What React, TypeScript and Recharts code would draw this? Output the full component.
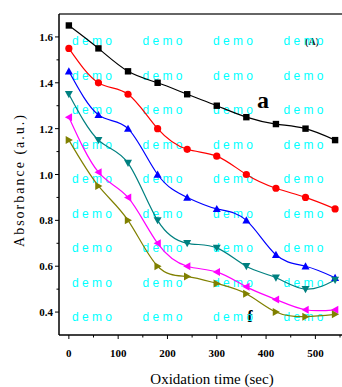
import React from "react";
import { LineChart, Line, XAxis, YAxis, Customized } from "recharts";

const times = [0, 60, 120, 180, 240, 300, 360, 420, 480, 540];
const seriesA = [1.65, 1.55, 1.45, 1.4, 1.35, 1.3, 1.25, 1.22, 1.2, 1.15];
const seriesB = [1.55, 1.4, 1.35, 1.2, 1.11, 1.08, 1.0, 0.94, 0.9, 0.85];
const seriesC = [1.45, 1.26, 1.2, 1.0, 0.9, 0.85, 0.8, 0.65, 0.6, 0.55];
const seriesD = [1.35, 1.15, 1.05, 0.8, 0.7, 0.68, 0.6, 0.55, 0.5, 0.54];
const seriesE = [1.25, 1.01, 0.9, 0.7, 0.6, 0.575, 0.51, 0.455, 0.41, 0.41];
const seriesF = [1.15, 0.95, 0.8, 0.6, 0.555, 0.525, 0.48, 0.4, 0.38, 0.39];

const xTicks = [0, 50, 100, 150, 200, 250, 300, 350, 400, 450, 500, 550];
const yTicks = [0.4, 0.5, 0.6, 0.7, 0.8, 0.9, 1.0, 1.1, 1.2, 1.3, 1.4, 1.5, 1.6];
const xLabels = [0, 100, 200, 300, 400, 500];
const yLabels = [0.4, 0.6, 0.8, 1.0, 1.2, 1.4, 1.6];

const data = times.map((t, i) => ({
  t,
  a: seriesA[i],
  b: seriesB[i],
  c: seriesC[i],
  d: seriesD[i],
  e: seriesE[i],
  f: seriesF[i],
}));

const SERIF = "'Liberation Serif', 'Times New Roman', serif";

type Kind = "square" | "circle" | "up" | "down" | "left" | "right";

const makeDot = (kind: Kind, color: string) => (props: any) => {
  const { cx, cy, index } = props;
  const k = `dot-${kind}-${index}`;
  if (cx == null || cy == null) return <g key={k} />;
  const s = 3.2;
  const t = 4;
  switch (kind) {
    case "square":
      return <rect key={k} x={cx - s} y={cy - s} width={s * 2} height={s * 2} fill={color} />;
    case "circle":
      return <circle key={k} cx={cx} cy={cy} r={3.6} fill={color} />;
    case "up":
      return <polygon key={k} points={`${cx},${cy - t} ${cx - t},${cy + t * 0.8} ${cx + t},${cy + t * 0.8}`} fill={color} />;
    case "down":
      return <polygon key={k} points={`${cx},${cy + t} ${cx - t},${cy - t * 0.8} ${cx + t},${cy - t * 0.8}`} fill={color} />;
    case "left":
      return <polygon key={k} points={`${cx - t},${cy} ${cx + t * 0.8},${cy - t} ${cx + t * 0.8},${cy + t}`} fill={color} />;
    case "right":
    default:
      return <polygon key={k} points={`${cx + t},${cy} ${cx - t * 0.8},${cy - t} ${cx - t * 0.8},${cy + t}`} fill={color} />;
  }
};

const XTick = (props: any) => {
  const { x, y, payload } = props;
  const v = payload.value;
  const major = xLabels.includes(v);
  return (
    <g>
      <line x1={x} x2={x} y1={y} y2={y + (major ? 4 : 2.5)} stroke="#000" strokeWidth={1} />
      {major && (
        <text x={x} y={y + 22} textAnchor="middle" fontFamily={SERIF} fontWeight="bold" fontSize={11} fill="#000">
          {v}
        </text>
      )}
    </g>
  );
};

const YTick = (props: any) => {
  const { x, y, payload } = props;
  const v = Math.round(payload.value * 10) / 10;
  const major = yLabels.some((l) => Math.abs(l - v) < 1e-6);
  return (
    <g>
      <line x1={x} x2={x - (major ? 4 : 2.5)} y1={y} y2={y} stroke="#000" strokeWidth={1} />
      {major && (
        <text x={x - 6} y={y + 4} textAnchor="end" fontFamily={SERIF} fontWeight="bold" fontSize={11} fill="#000">
          {v.toFixed(1)}
        </text>
      )}
    </g>
  );
};

const wmRows = [45, 79.5, 114, 148.5, 183, 217.5, 252, 286.5, 321];
const wmCols = [72, 142.5, 213, 283.5];

const Overlay = () => (
  <g>
    <line x1={59} x2={342} y1={14} y2={14} stroke="#666" strokeWidth={2.2} />
    <text x={312} y={45} textAnchor="middle" fontFamily={SERIF} fontWeight="bold" fontSize={10} fill="#222">
      (A)
    </text>
    <text x={263} y={108} textAnchor="middle" fontFamily={SERIF} fontWeight="bold" fontSize={24} fill="#000">
      a
    </text>
    <text x={250} y={322} textAnchor="middle" fontFamily={SERIF} fontWeight="bold" fontSize={16} fill="#000">
      f
    </text>
    {wmRows.map((ry) =>
      wmCols.map((cx) => (
        <text
          key={`wm-${ry}-${cx}`}
          x={cx}
          y={ry}
          fontFamily="'Liberation Sans', Arial, sans-serif"
          fontSize={12}
          fill="#00ffff"
          style={{ whiteSpace: "pre" }}
        >
          {"d e m o"}
        </text>
      ))
    )}
    <text x={212} y={384} textAnchor="middle" fontFamily={SERIF} fontSize={15} fill="#000">
      Oxidation time (sec)
    </text>
    <text
      x={19}
      y={180}
      textAnchor="middle"
      fontFamily={SERIF}
      fontSize={14}
      fill="#000"
      letterSpacing={2}
      transform="rotate(-90, 19, 180)"
      dominantBaseline="central"
    >
      Absorbance (a.u.)
    </text>
  </g>
);

export default function App() {
  return (
    <div style={{ position: "absolute", left: 0, top: 0, width: 342, height: 387, background: "#fff", overflow: "visible" }}>
      <LineChart width={342} height={387} data={data} margin={{ top: 14, right: 0, left: 0, bottom: 22 }} style={{ overflow: "visible" }}>
        <XAxis
          dataKey="t"
          type="number"
          domain={[-20, 554]}
          ticks={xTicks}
          interval={0}
          allowDataOverflow
          tickSize={0}
          tickMargin={0}
          tickLine={false}
          tick={<XTick />}
          height={30}
          axisLine={{ stroke: "#000", strokeWidth: 1.5 }}
        />
        <YAxis
          type="number"
          domain={[0.3, 1.7]}
          ticks={yTicks}
          interval={0}
          allowDataOverflow
          tickSize={0}
          tickMargin={0}
          tickLine={false}
          tick={<YTick />}
          width={59}
          axisLine={{ stroke: "#000", strokeWidth: 1.5 }}
        />
        <Line dataKey="a" type="natural" stroke="#000000" strokeWidth={1.2} dot={makeDot("square", "#000000")} isAnimationActive={false} />
        <Line dataKey="b" type="natural" stroke="#ff0000" strokeWidth={1.2} dot={makeDot("circle", "#ff0000")} isAnimationActive={false} />
        <Line dataKey="c" type="natural" stroke="#0000ff" strokeWidth={1.2} dot={makeDot("up", "#0000ff")} isAnimationActive={false} />
        <Line dataKey="d" type="natural" stroke="#008080" strokeWidth={1.2} dot={makeDot("down", "#008080")} isAnimationActive={false} />
        <Line dataKey="e" type="natural" stroke="#ff00ff" strokeWidth={1.2} dot={makeDot("left", "#ff00ff")} isAnimationActive={false} />
        <Line dataKey="f" type="natural" stroke="#808000" strokeWidth={1.2} dot={makeDot("right", "#808000")} isAnimationActive={false} />
        <Customized component={Overlay} />
      </LineChart>
    </div>
  );
}
